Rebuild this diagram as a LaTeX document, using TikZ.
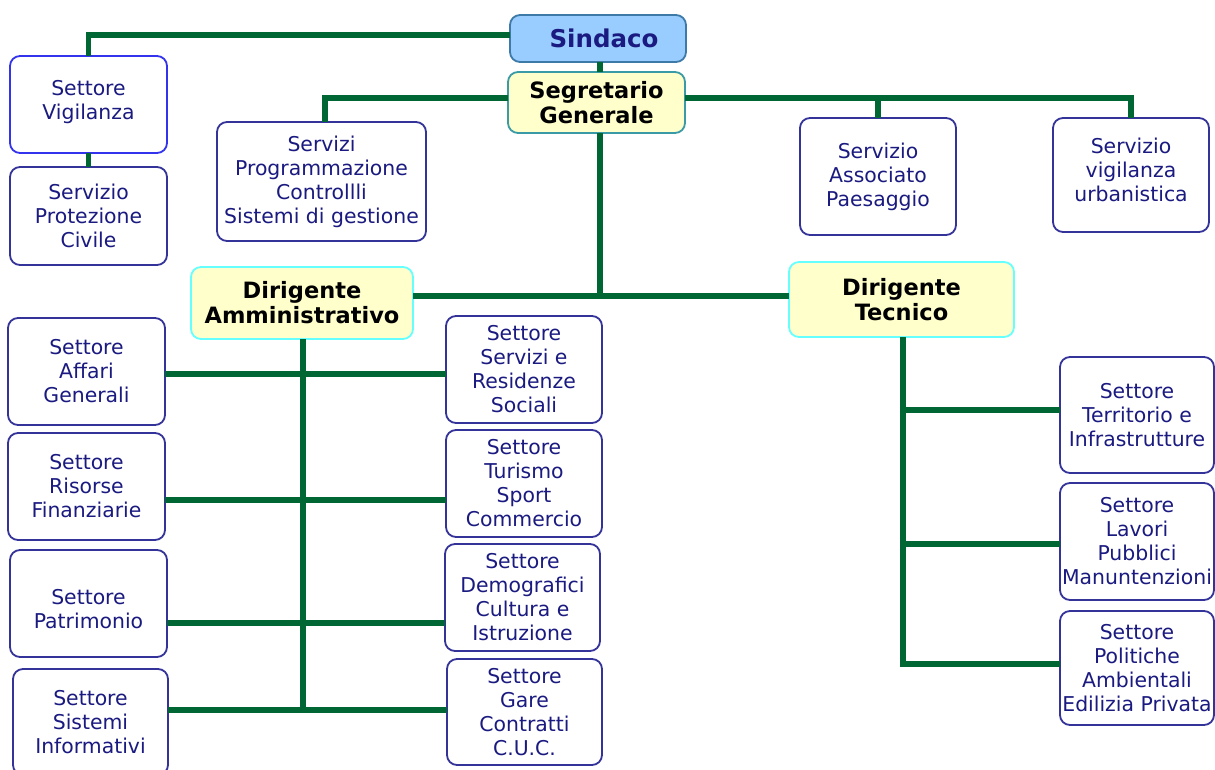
\documentclass[tikz,border=0pt]{standalone}
\usepackage{fontspec}
\setmainfont{DejaVu Sans}
\definecolor{lnk}{HTML}{006633}
\definecolor{navy}{HTML}{1A1A80}
\definecolor{bnavy}{HTML}{333399}
\definecolor{bblue}{HTML}{3333EE}
\definecolor{skyfill}{HTML}{99CCFF}
\definecolor{skyborder}{HTML}{3D7AA8}
\definecolor{yel}{HTML}{FFFFCC}
\definecolor{cyanb}{HTML}{66FFFF}
\definecolor{tealb}{HTML}{3A9AA5}
\tikzset{
  box/.style={draw=bnavy, line width=1.8pt, rounded corners=10pt, fill=white,
    align=center, inner sep=0pt, outer sep=0pt, text=navy,
    font=\fontsize{20.4}{24}\selectfont},
  boss/.style={box, fill=yel, draw=cyanb, text=black,
    font=\fontsize{22.5}{25}\selectfont\bfseries},
  link/.style={draw=lnk, line width=5.2pt}
}
\newcommand{\bx}[7]{%
  \node[#6, minimum width={#4-#2}, minimum height={#5-#3}]
    (#1) at ({(#2+#4)/2},{(#3+#5)/2}) {#7};}
\begin{document}
\begin{tikzpicture}[x=1pt,y=-1pt]
\useasboundingbox[fill=white] (0,0) rectangle (1215,769);
\coordinate (jtop) at (600,296);
\coordinate (jam) at (303,710);
\coordinate (jtc) at (903,664);
% boxes
\bx{sindaco}{510}{15}{686}{62}{box, fill=skyfill, draw=skyborder, font=\fontsize{24.5}{26}\selectfont\bfseries}{\hspace*{12pt}Sindaco}
\bx{segr}{508}{72}{685}{133}{boss, draw=tealb}{Segretario\\Generale}
\bx{vig}{10}{56}{167}{153}{box, draw=bblue}{Settore\\Vigilanza\\[-14pt]\mbox{}}
\bx{prot}{10}{167}{167}{265}{box}{Servizio\\Protezione\\Civile}
\bx{prog}{217}{122}{426}{241}{box}{Servizi\\Programmazione\\Controllli\\Sistemi di gestione}
\bx{assoc}{800}{118}{956}{235}{box}{Servizio\\Associato\\Paesaggio}
\bx{urb}{1053}{118}{1209}{232}{box}{Servizio\\vigilanza\\urbanistica\\[-14pt]\mbox{}}
\bx{dam}{191}{267}{413}{339}{boss}{Dirigente\\Amministrativo}
\bx{dtec}{789}{262}{1014}{337}{boss}{Dirigente\\Tecnico}
\bx{affari}{8}{318}{165}{425}{box}{Settore\\Affari\\Generali}
\bx{risorse}{8}{433}{165}{540}{box}{Settore\\Risorse\\Finanziarie}
\bx{patr}{10}{550}{167}{657}{box}{\\[2pt]Settore\\Patrimonio}
\bx{sist}{13}{669}{168}{775}{box}{Settore\\Sistemi\\Informativi}
\bx{servres}{446}{316}{602}{423}{box}{Settore\\Servizi e\\Residenze\\Sociali}
\bx{turismo}{446}{430}{602}{537}{box}{Settore\\Turismo\\Sport\\Commercio}
\bx{demo}{445}{544}{600}{651}{box}{Settore\\Demografici\\Cultura e\\Istruzione}
\bx{gare}{447}{659}{602}{765}{box}{Settore\\Gare\\Contratti\\C.U.C.}
\bx{terr}{1060}{357}{1214}{473}{box}{Settore\\Territorio e\\Infrastrutture}
\bx{lavori}{1060}{483}{1214}{600}{box}{Settore\\Lavori\\Pubblici\\Manuntenzioni}
\bx{polit}{1060}{611}{1214}{725}{box}{Settore\\Politiche\\Ambientali\\Edilizia Privata}
% connectors
\draw[link] (sindaco.west |- 0,35) -| (vig.north);
\draw[link] (vig.south) -- (prot.north);
\draw[link] (sindaco.south -| 600,0) -- (segr.north -| 600,0);
\draw[link] (segr.west |- 0,98) -| (prog.north -| 325,0);
\draw[link] (segr.east |- 0,98) -| (urb.north -| 1131,0);
\draw[link] (878,98) -- (assoc.north -| 878,0);
\draw[link] (segr.south -| jtop) -- (jtop);
\draw[link] (dam.east |- jtop) -- (dtec.west |- jtop);
\draw[link] (dam.south -| jam) -- (jam);
\draw[link] (affari.east |- 0,374) -- (servres.west |- 0,374);
\draw[link] (risorse.east |- 0,500) -- (turismo.west |- 0,500);
\draw[link] (patr.east |- 0,623) -- (demo.west |- 0,623);
\draw[link] (sist.east |- jam) -- (gare.west |- jam);
\draw[link] (dtec.south -| jtc) -- (jtc) -- (polit.west |- jtc);
\draw[link] (terr.west |- 0,410) -- (jtc |- 0,410);
\draw[link] (lavori.west |- 0,544) -- (jtc |- 0,544);
\end{tikzpicture}
\end{document}
